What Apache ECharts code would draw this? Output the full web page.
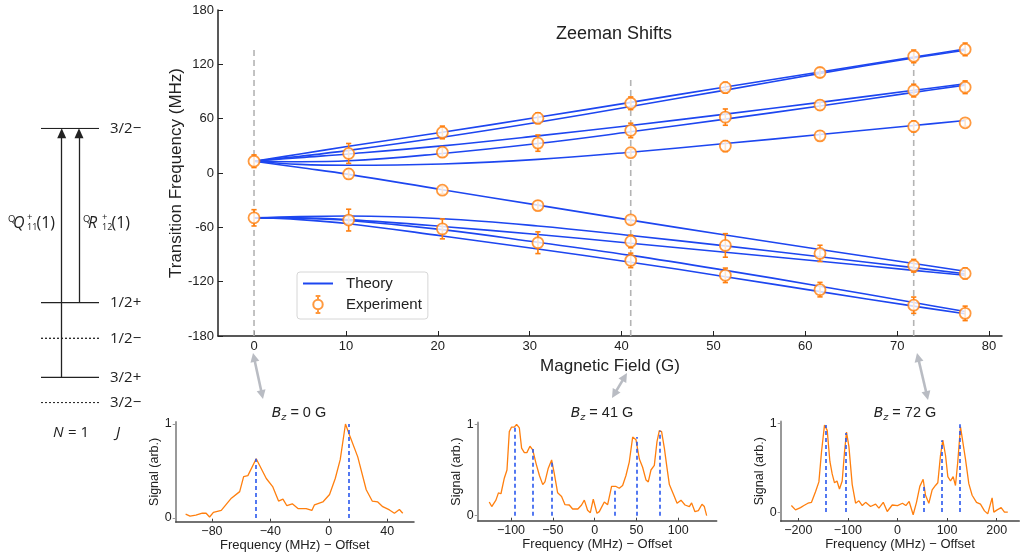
<!DOCTYPE html>
<html>
<head>
<meta charset="utf-8">
<script src="https://cdn.jsdelivr.net/npm/echarts@6/dist/echarts.min.js"></script>
<style>
  html, body { margin: 0; padding: 0; background: #fff; }
  #chart { width: 1020px; height: 556px; }
</style>
</head>
<body>
<div id="chart"></div>
<script>
// ---------- data ----------
// magnetic fields where spectra were taken
var fields = [0, 10.3, 20.5, 30.9, 41, 51.3, 61.6, 71.8, 77.4];
// measured line positions (MHz) and their errors, one row per field
var expFreq = [
  [13, -49.5],
  [21.6, -1, -52],
  [44.8, 23, -19, -61.7],
  [60.5, 33, -36, -77],
  [77, 47, 22.4, -51.7, -75.6, -96.5],
  [94.3, 61.7, 29.7, -80, -113],
  [111, 75, 41, -88.8, -128.8],
  [128.8, 91, 51.4, -102.4, -146],
  [136.5, 94.7, 55.4, -110.9, -155]
];
var expErr = [
  [7, 9],
  [11, 5, 12],
  [7, 5, 4, 11],
  [6, 9, 5, 12],
  [7, 8, 4, 4, 7, 8],
  [6, 9, 6, 13, 8],
  [5, 5, 5, 9, 8],
  [7, 7, 6, 7, 9],
  [7, 7, 4, 6, 8]
];

// theory curves
var theoryField = [0, 5, 10.3, 20.5, 30.9, 41, 51.3, 61.6, 71.8, 77.4];
var theoryUp1 = [13, 21, 29.5, 45, 61.5, 78, 95, 111.5, 128, 137];
var theoryUp2 = [13, 18.5, 25, 39.5, 56, 73.5, 91.5, 110, 127, 135.5];
var theoryUp3 = [13, 17, 21, 30, 41, 52.5, 65, 78, 91.3, 98.5];
var theoryUp4 = [13, 12.5, 13.5, 21.5, 32.5, 45.5, 59.5, 74, 89, 97];
var theoryUp5 = [13, 9.5, 8.5, 10, 15, 23, 32.5, 42.5, 52.5, 58];
var theoryDown = [13, 6, -1.5, -18.5, -35.5, -52, -68.5, -84.5, -100, -108.5];
var theoryLow1 = [-49.5, -48, -47.5, -50.5, -58.5, -69, -80.5, -92.5, -104.5, -111.2];
var theoryLow2 = [-49.5, -49.5, -51.5, -59, -68, -77.5, -87.5, -97.5, -107.5, -113];
var theoryLow3 = [-49.5, -50, -52.5, -62.5, -76.5, -91, -107.5, -125, -143, -153];
var theoryLow4 = [-49.5, -51.5, -56, -69.5, -84, -98.5, -114.5, -131, -147, -155.5];

// fields marked with dashed guides, and how far up the guides run
var markedFields = [0, 41, 71.8];
var markedTop = [136, 103, 140];

// spectra: [frequency - offset (MHz), normalised signal]
var spec0 = [[-98,0.04],[-95,0.02],[-91,0.03],[-86.6,0.05],[-84,0.05],[-81.6,0.01],[-79,0.06],[-73.6,0.08],
  [-66.7,0.21],[-61,0.28],[-58.3,0.44],[-55.4,0.45],[-49.7,0.63],[-42.8,0.42],[-38.3,0.33],[-34.4,0.18],
  [-31.4,0.2],[-28.7,0.13],[-25,0.15],[-21.1,0.1],[-15.5,0.1],[-11.6,0.08],[-9.8,0.14],[-4.1,0.17],
  [0.5,0.25],[4.4,0.42],[7.8,0.62],[11.4,1.0],[14.2,0.88],[19.8,0.65],[25.6,0.3],[29.7,0.18],
  [33.5,0.17],[36.9,0.12],[41.5,0.085],[44.9,0.05],[48.3,0.09],[50.6,0.05]];
var spec41 = [[-126,0.15],[-123,0.1],[-118,0.17],[-115,0.25],[-112,0.24],[-108,0.41],[-104.8,0.5],
  [-102,0.92],[-99.3,0.97],[-96,0.97],[-93.3,1.0],[-90,0.96],[-87.3,0.74],[-84,0.69],[-81,0.69],
  [-77.3,0.76],[-74,0.72],[-70,0.57],[-66,0.44],[-62,0.34],[-59.4,0.37],[-55.4,0.52],[-51.4,0.61],
  [-48.2,0.46],[-44.2,0.25],[-39.5,0.21],[-35.4,0.12],[-30.3,0.117],[-26.3,0.073],[-20,0.073],
  [-15.6,0.117],[-12.3,0.17],[-8.4,0.06],[-5.1,0.033],[-1.6,0.18],[2.8,0.026],[5.6,0.044],
  [11.6,0.15],[15.6,0.12],[20.3,0.32],[25.6,0.32],[29.5,0.3],[33.5,0.33],[37.5,0.44],[41.5,0.59],
  [45.5,0.86],[49.5,0.83],[53.5,0.62],[57.4,0.53],[61.5,0.39],[64.2,0.37],[67.4,0.5],[71.4,0.55],
  [74.6,0.81],[77.4,0.93],[80.1,0.92],[83.4,0.74],[86.6,0.52],[89.4,0.34],[94.5,0.23],[98.6,0.135],
  [103.3,0.17],[108.1,0.117],[113.3,0.1],[116,0.14],[120,0.044],[124.1,0.055],[128.4,0.125],
  [131.2,0.1],[134,0.0]];
var spec72 = [[-214,0.074],[-205.6,0.025],[-195.6,0.05],[-188.7,0.074],[-180.6,0.1],[-173.4,0.11],
  [-165.3,0.23],[-158.5,0.34],[-153.2,0.68],[-147.2,0.98],[-141.7,0.92],[-136.3,0.57],[-131.7,0.43],
  [-127,0.33],[-122,0.35],[-117,0.26],[-111.5,0.35],[-106.8,0.68],[-102.8,0.9],[-98,0.74],[-91.3,0.31],
  [-84.5,0.1],[-77.8,0.127],[-71,0.074],[-64.3,0.11],[-54.3,0.063],[-44.2,0.09],[-37.5,0.045],
  [-28.7,0.11],[-20.7,0.007],[-10.6,0.08],[0,0.074],[10,0.1],[16.8,0.074],[23.5,0.12],[31.6,-0.03],
  [38.3,0.11],[45,0.29],[51.7,0.37],[56.5,0.19],[63.2,0.1],[69.9,0.25],[76.6,0.3],[81.3,0.33],
  [86.7,0.64],[91.4,0.81],[96.8,0.64],[101.5,0.4],[106.9,0.35],[112.2,0.4],[116.9,0.3],[121.6,0.57],
  [127,0.96],[131,0.98],[137,0.6],[143.8,0.32],[150.5,0.19],[159.3,0.11],[167.3,0.09],[175.4,0.014],
  [182,-0.02],[190.8,0.16],[194.2,0.0],[200.9,0.025],[209,0.05],[215.7,0.0],[222.4,0.0]];
// predicted line positions drawn in each spectrum, with the signal there
var peaks0 = [[-50.1, 0.63], [13.5, 1.0]];
var peaks41 = [[-95.6, 0.99], [-74, 0.73], [-50.8, 0.59], [24.4, 0.29], [50.3, 0.86], [77.4, 0.93]];
var peaks72 = [[-145, 0.98], [-105, 0.89], [52, 0.29], [89.5, 0.81], [126, 0.99]];

// energy-level diagram (arbitrary units, bottom level = 0)
var levelEnergy = [274.4, 100, 64.4, 25.4, 0];
var levelLabel = ['3/2\u2212', '1/2+', '1/2\u2212', '3/2+', '3/2\u2212'];
var levelSolid = [true, true, false, true, false];
// transitions: [lower level index, upper level index]
var transitions = [[3, 0], [1, 0]];

// ---------- chart ----------
var chart = echarts.init(document.getElementById('chart'));
var BLUE = '#1d46f0', ORANGE = '#ff7f0e', GRAY = '#b4b4b4', INK = '#222';
var FONT = 'Liberation Sans', DFONT = 'Open Sans';

var series = [];
var theoryCurves = [theoryUp1, theoryUp2, theoryUp3, theoryUp4, theoryUp5,
  theoryDown, theoryLow1, theoryLow2, theoryLow3, theoryLow4];

// dashed guides
markedFields.forEach(function (f, i) {
  series.push({
    type: 'line', name: 'guide', silent: true, symbol: 'none', z: 1,
    data: [[f, -180], [f, markedTop[i]]],
    lineStyle: { color: GRAY, width: 1.6, type: [6, 4] }
  });
});

theoryCurves.forEach(function (c) {
  series.push({
    type: 'line', name: 'Theory', symbol: 'none', smooth: 0.4, z: 2,
    data: theoryField.map(function (b, i) { return [b, c[i]]; }),
    lineStyle: { color: BLUE, width: 1.6 },
    itemStyle: { color: BLUE }
  });
});

var expPoints = [], expBars = [];
fields.forEach(function (b, i) {
  expFreq[i].forEach(function (v, j) {
    expPoints.push([b, v]);
    expBars.push([b, v, expErr[i][j]]);
  });
});

series.push({
  type: 'custom', name: 'Experiment error', z: 3,
  data: expBars,
  encode: { x: 0, y: 1 },
  renderItem: function (params, api) {
    var x = api.value(0), y = api.value(1), e = api.value(2);
    var top = api.coord([x, y + e]), bot = api.coord([x, y - e]);
    var cap = 2.6, st = { stroke: ORANGE, lineWidth: 1.6 };
    return {
      type: 'group', children: [
        { type: 'line', shape: { x1: top[0], y1: top[1], x2: bot[0], y2: bot[1] }, style: st },
        { type: 'line', shape: { x1: top[0] - cap, y1: top[1], x2: top[0] + cap, y2: top[1] }, style: st },
        { type: 'line', shape: { x1: bot[0] - cap, y1: bot[1], x2: bot[0] + cap, y2: bot[1] }, style: st }
      ]
    };
  }
});

series.push({
  type: 'scatter', name: 'Experiment', z: 4,
  data: expPoints,
  symbol: 'circle', symbolSize: 11,
  itemStyle: { color: '#fff', borderColor: ORANGE, borderWidth: 1.8 }
});

// spectra
var specs = [spec0, spec41, spec72];
var peaks = [peaks0, peaks41, peaks72];
specs.forEach(function (s, k) {
  series.push({
    type: 'line', name: 'spec' + k, xAxisIndex: k + 1, yAxisIndex: k + 1,
    symbol: 'none', data: s, z: 3,
    lineStyle: { color: ORANGE, width: 1.3 },
    markLine: {
      silent: true, symbol: 'none', label: { show: false }, animation: false,
      lineStyle: { color: '#2a58ee', width: 1.6, type: [4, 3] },
      data: peaks[k].map(function (p) { return [{ coord: [p[0], 0] }, { coord: [p[0], p[1]] }]; })
    }
  });
});

// level diagram
levelEnergy.forEach(function (e, i) {
  series.push({
    type: 'line', name: 'level' + i, xAxisIndex: 4, yAxisIndex: 4,
    symbol: 'none', data: [[0, e], [1, e]], silent: true,
    lineStyle: { color: INK, width: 1.3, type: levelSolid[i] ? 'solid' : [2, 2] },
    endLabel: {
      show: true, formatter: levelLabel[i], distance: 11,
      fontFamily: DFONT, fontSize: 15, color: INK
    }
  });
});
var transX = [0.357, 0.655];
series.push({
  type: 'line', name: 'transitions', xAxisIndex: 4, yAxisIndex: 4, data: [], silent: true,
  markLine: {
    symbol: ['none', 'triangle'], symbolSize: [9, 10], label: { show: false }, animation: false,
    lineStyle: { color: INK, width: 1.3, type: 'solid' },
    itemStyle: { color: INK },
    data: transitions.map(function (t, i) {
      return [{ coord: [transX[i], levelEnergy[t[0]]] }, { coord: [transX[i], levelEnergy[t[1]] - 5] }];
    })
  }
});

// ---------- axes ----------
function subX(idx, mn, mx, ticks) {
  return {
    type: 'value', gridIndex: idx, min: mn, max: mx,
    name: 'Frequency (MHz) \u2212 Offset', nameLocation: 'middle', nameGap: 15,
    nameTextStyle: { fontFamily: FONT, fontSize: 13, color: INK },
    axisLine: { onZero: false, lineStyle: { color: '#444', width: 1.5 } },
    axisTick: { inside: true, length: 3, customValues: ticks, lineStyle: { color: '#444' } },
    axisLabel: {
      customValues: ticks, margin: 3, fontFamily: FONT, fontSize: 12.5, color: INK,
      formatter: function (v) { return String(v).replace('-', '\u2212'); }
    },
    splitLine: { show: false }
  };
}
function subY(idx, mn) {
  return {
    type: 'value', gridIndex: idx, min: mn, max: 1.02,
    name: 'Signal (arb.)', nameLocation: 'middle', nameGap: 13,
    nameTextStyle: { fontFamily: FONT, fontSize: 12.5, color: INK },
    axisLine: { show: true, onZero: false, lineStyle: { color: '#999', width: 2 } },
    axisTick: { show: true, inside: false, length: 3, customValues: [0, 1], lineStyle: { color: '#999' } },
    axisLabel: { customValues: [0, 1], margin: 4, fontFamily: FONT, fontSize: 12.5, color: INK },
    splitLine: { show: false }
  };
}

function dblArrow(x1, y1, x2, y2) {
  var dx = x2 - x1, dy = y2 - y1, L = Math.sqrt(dx * dx + dy * dy);
  var ux = dx / L, uy = dy / L, px = -uy, py = ux, hl = 9, hw = 4.5;
  var col = '#b9bcc3';
  function head(tx, ty, sx, sy) {
    return {
      type: 'polygon', z: 100,
      shape: { points: [[tx, ty], [tx - sx * hl + px * hw, ty - sy * hl + py * hw], [tx - sx * hl - px * hw, ty - sy * hl - py * hw]] },
      style: { fill: col }
    };
  }
  return [
    { type: 'line', z: 100, shape: { x1: x1 + ux * hl * 0.8, y1: y1 + uy * hl * 0.8, x2: x2 - ux * hl * 0.8, y2: y2 - uy * hl * 0.8 }, style: { stroke: col, lineWidth: 2.6 } },
    head(x1, y1, -ux, -uy), head(x2, y2, ux, uy)
  ];
}

function txt(x, y, s, size, italic) {
  return {
    type: 'text', x: x, y: y, z: 50,
    style: { text: s, fontSize: size, fontStyle: italic ? 'italic' : 'normal', fill: INK, fontFamily: DFONT, align: 'left', verticalAlign: 'middle' }
  };
}
function transLabel(x, letter, sub) {
  return [
    txt(x, 219.5, 'Q', 9.5, false),
    txt(x + 5, 223.5, letter, 16, true),
    txt(x + 19, 217.5, '+', 9.5, false),
    txt(x + 19, 227, sub, 9, false),
    txt(x + 28.5, 223.5, '(1)', 16, false)
  ];
}

var graphics = []
  .concat(dblArrow(253, 353, 263, 399))
  .concat(dblArrow(627, 373, 612, 398))
  .concat(dblArrow(917, 353, 928, 400))
  .concat(transLabel(8, 'Q', '11'))
  .concat(transLabel(83, 'R', '12'))
  .concat([
    txt(53, 433, 'N', 15, true),
    txt(68, 433, '= 1', 15, false),
    txt(116, 433, 'J', 15, true)
  ]);

function bzTitle(x, val) {
  var base = { color: INK, fontWeight: 'normal', lineHeight: 20 };
  return {
    text: '{b|B}{z|z}{n| = ' + val + ' G}', left: x, top: 398, textAlign: 'center',
    textStyle: {
      fontWeight: 'normal',
      rich: {
        b: Object.assign({ fontFamily: 'DejaVu Sans', fontStyle: 'italic', fontSize: 14, verticalAlign: 'middle' }, base),
        z: Object.assign({ fontFamily: 'DejaVu Sans', fontStyle: 'italic', fontSize: 9.5, verticalAlign: 'bottom' }, base),
        n: Object.assign({ fontFamily: FONT, fontSize: 14.5, verticalAlign: 'middle' }, base)
      }
    }
  };
}

chart.setOption({
  animation: false,
  title: [
    { text: 'Zeeman Shifts', left: 609, top: 20, textAlign: 'center', textStyle: { fontFamily: FONT, fontSize: 18, fontWeight: 'normal', color: INK } },
    bzTitle(294, '0'), bzTitle(597, '41'), bzTitle(900, '72')
  ],
  legend: {
    left: 297, top: 272, orient: 'vertical',
    padding: [4, 6, 5, 6], itemGap: 4, itemWidth: 30, itemHeight: 17,
    borderColor: '#d6d6d6', borderWidth: 1, borderRadius: 3,
    textStyle: { fontFamily: FONT, fontSize: 15, color: INK, padding: [0, 0, 0, 8] },
    data: [
      { name: 'Theory', icon: 'path://M0 0L30 0L30 2L0 2Z', itemStyle: { color: BLUE } },
      { name: 'Experiment', icon: 'path://M5 0L5 4M2.5 0L7.5 0M5 14L5 18M2.5 18L7.5 18M5 4A5 5 0 1 0 5 14A5 5 0 1 0 5 4Z' }
    ]
  },
  grid: [
    { left: 218, top: 10, width: 784, height: 326 },
    { left: 175.7, top: 422.1, width: 238.3, height: 99.6 },
    { left: 477.7, top: 422.5, width: 239, height: 98.2 },
    { left: 780.7, top: 421.5, width: 238.6, height: 99.5 },
    { left: 41, top: 128.3, width: 58, height: 274.4 }
  ],
  xAxis: [
    {
      type: 'value', gridIndex: 0, min: -3.92, max: 81.41,
      name: 'Magnetic Field (G)', nameLocation: 'middle', nameGap: 19,
      nameTextStyle: { fontFamily: FONT, fontSize: 17, color: INK },
      axisLine: { onZero: false, lineStyle: { color: INK, width: 1.5 } },
      axisTick: { inside: true, length: 5, customValues: [0, 10, 20, 30, 40, 50, 60, 70, 80], lineStyle: { color: INK } },
      axisLabel: { customValues: [0, 10, 20, 30, 40, 50, 60, 70, 80], margin: 4, fontFamily: FONT, fontSize: 13, color: INK },
      splitLine: { show: false }
    },
    subX(1, -104.8, 58.3, [-80, -40, 0, 40]),
    subX(2, -139.8, 146, [-100, -50, 0, 50, 100]),
    subX(3, -235.5, 245.6, [-200, -100, 0, 100, 200]),
    { type: 'value', gridIndex: 4, min: 0, max: 1, show: false }
  ],
  yAxis: [
    {
      type: 'value', gridIndex: 0, min: -180, max: 180, interval: 60,
      name: 'Transition Frequency (MHz)', nameLocation: 'middle', nameGap: 33, nameMoveOverlap: false,
      nameTextStyle: { fontFamily: FONT, fontSize: 17, color: INK },
      axisLine: { show: true, onZero: false, lineStyle: { color: INK, width: 1.5 } },
      axisTick: { show: true, inside: true, length: 5, lineStyle: { color: INK } },
      axisLabel: { margin: 4, fontFamily: FONT, fontSize: 13, color: INK },
      splitLine: { show: false }
    },
    subY(1, -0.04),
    subY(2, -0.055),
    subY(3, -0.1),
    { type: 'value', gridIndex: 4, min: 0, max: 274.4, show: false }
  ],
  graphic: graphics,
  series: series
});
</script>
</body>
</html>
